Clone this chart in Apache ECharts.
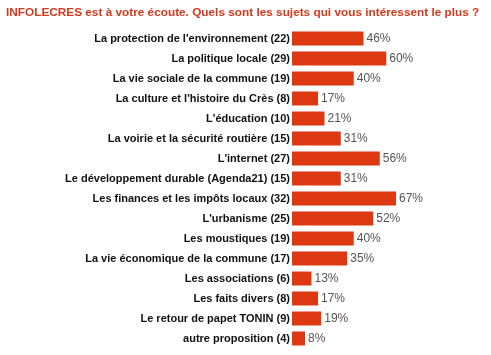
<!DOCTYPE html>
<html><head><meta charset="utf-8">
<script src="https://cdn.jsdelivr.net/npm/echarts@6/dist/echarts.min.js"></script>
<style>html,body{margin:0;padding:0;background:#fff}#c{width:491px;height:355px}</style>
</head><body><div id="c"></div>
<script>
const titleText = "INFOLECRES est à votre écoute. Quels sont les sujets qui vous intéressent le plus ?";
const categories = [
  "La protection de l'environnement (22)",
  "La politique locale (29)",
  "La vie sociale de la commune (19)",
  "La culture et l'histoire du Crès (8)",
  "L'éducation (10)",
  "La voirie et la sécurité routière (15)",
  "L'internet (27)",
  "Le développement durable (Agenda21) (15)",
  "Les finances et les impôts locaux (32)",
  "L'urbanisme (25)",
  "Les moustiques (19)",
  "La vie économique de la commune (17)",
  "Les associations (6)",
  "Les faits divers (8)",
  "Le retour de papet TONIN (9)",
  "autre proposition (4)"
];
const counts = [22, 29, 19, 8, 10, 15, 27, 15, 32, 25, 19, 17, 6, 8, 9, 4];
const percents = ["46%", "60%", "40%", "17%", "21%", "31%", "56%", "31%", "67%", "52%", "40%", "35%", "13%", "17%", "19%", "8%"];
const totalRespondents = 48;

const chart = echarts.init(document.getElementById('c'), null, {renderer: 'canvas'});
chart.setOption({
  animation: false,
  title: {
    text: titleText, left: 1, top: 2,
    textStyle: {color: '#d5381c', fontSize: 11.8, fontWeight: 'bold', fontFamily: 'Liberation Sans, Arial, sans-serif'}
  },
  grid: {left: 292, top: 28.5, width: 156, height: 320, containLabel: false},
  xAxis: {type: 'value', min: 0, max: totalRespondents, show: false},
  yAxis: {
    type: 'category', data: categories, inverse: true,
    axisLine: {show: false}, axisTick: {show: false}, splitLine: {show: false},
    axisLabel: {margin: 2, color: '#111', fontSize: 11, fontWeight: 'bold', fontFamily: 'Liberation Sans, Arial, sans-serif'}
  },
  series: [{
    type: 'bar', data: counts, barWidth: 14,
    itemStyle: {color: '#dc3912'},
    label: {
      show: true, position: 'right', distance: 3,
      formatter: p => percents[p.dataIndex],
      color: '#555', fontSize: 12, fontFamily: 'Liberation Sans, Arial, sans-serif'
    }
  }]
});
</script></body></html>
